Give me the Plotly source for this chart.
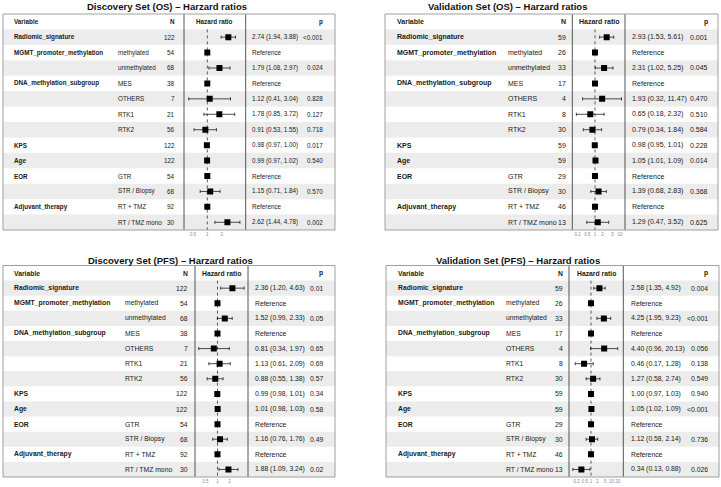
import math
import plotly.graph_objects as go

# ---------------- data ----------------
variables = ["Radiomic_signature", "MGMT_promoter_methylation", "", "DNA_methylation_subgroup",
             "", "", "", "KPS", "Age", "EOR", "", "Adjuvant_therapy", ""]
levels = ["", "methylated", "unmethylated", "MES", "OTHERS", "RTK1", "RTK2",
          "", "", "GTR", "STR / Biopsy", "RT + TMZ", "RT / TMZ mono"]

n_discovery = [122, 54, 68, 38, 7, 21, 56, 122, 122, 54, 68, 92, 30]
n_validation = [59, 26, 33, 17, 4, 8, 30, 59, 59, 29, 30, 46, 13]

REF = None  # reference level (HR fixed at 1)
reference_hr = 1.0

disc_os_hr = [2.74, REF, 1.79, REF, 1.12, 1.78, 0.91, 0.98, 0.99, REF, 1.15, REF, 2.62]
disc_os_lo = [1.94, REF, 1.08, REF, 0.41, 0.85, 0.53, 0.97, 0.97, REF, 0.71, REF, 1.44]
disc_os_hi = [3.88, REF, 2.97, REF, 3.04, 3.72, 1.55, 1.00, 1.02, REF, 1.84, REF, 4.78]
disc_os_p = ["<0.001", "", "0.024", "", "0.828", "0.127", "0.718", "0.017", "0.540", "", "0.570", "", "0.002"]

val_os_hr = [2.93, REF, 2.31, REF, 1.93, 0.65, 0.79, 0.98, 1.05, REF, 1.39, REF, 1.29]
val_os_lo = [1.53, REF, 1.02, REF, 0.32, 0.18, 0.34, 0.95, 1.01, REF, 0.68, REF, 0.47]
val_os_hi = [5.61, REF, 5.25, REF, 11.47, 2.32, 1.84, 1.01, 1.09, REF, 2.83, REF, 3.52]
val_os_p = ["0.001", "", "0.045", "", "0.470", "0.510", "0.584", "0.228", "0.014", "", "0.368", "", "0.625"]

disc_pfs_hr = [2.36, REF, 1.52, REF, 0.81, 1.13, 0.88, 0.99, 1.01, REF, 1.16, REF, 1.88]
disc_pfs_lo = [1.20, REF, 0.99, REF, 0.34, 0.61, 0.55, 0.98, 0.98, REF, 0.76, REF, 1.09]
disc_pfs_hi = [4.63, REF, 2.33, REF, 1.97, 2.09, 1.38, 1.01, 1.03, REF, 1.76, REF, 3.24]
disc_pfs_p = ["0.01", "", "0.05", "", "0.65", "0.69", "0.57", "0.34", "0.58", "", "0.49", "", "0.02"]

val_pfs_hr = [2.58, REF, 4.25, REF, 4.40, 0.46, 1.27, 1.00, 1.05, REF, 1.12, REF, 0.34]
val_pfs_lo = [1.35, REF, 1.95, REF, 0.96, 0.17, 0.58, 0.97, 1.02, REF, 0.58, REF, 0.13]
val_pfs_hi = [4.92, REF, 9.23, REF, 20.13, 1.28, 2.74, 1.03, 1.09, REF, 2.14, REF, 0.88]
val_pfs_p = ["0.004", "", "<0.001", "", "0.056", "0.138", "0.549", "0.940", "<0.001", "", "0.736", "", "0.026"]

titles = ["Discovery Set (OS) – Harzard ratios", "Validation Set (OS) – Harzard ratios",
          "Discovery Set (PFS) – Harzard ratios", "Validation Set (PFS) – Harzard ratios"]
tick_values = [[0.5, 1, 2], [0.2, 0.5, 1, 2, 5, 10], [0.5, 1, 2], [0.2, 0.5, 1, 2, 5, 10, 20]]
tick_labels = [["0.5", "1", "2"], ["0.2", "0.5", "1", "2", "5", "10"],
               ["0.5", "1", "2"], ["0.2", "0.5", "1", "2", "5", "10", "20"]]

# ---------------- layout geometry (pixels) ----------------
W, H = 721, 487
FONT = "Liberation Sans, Arial, Helvetica, sans-serif"
panels = [
    dict(title=titles[0], n=n_discovery, hr=disc_os_hr, lo=disc_os_lo, hi=disc_os_hi, p=disc_os_p,
         box=(3, 14, 335, 230), hrcol=(184, 245.7), xr=(0.327, 6.3),
         cols=dict(var=12, lvl=116, n=177, est=250, p=325), fs=6.3, tx=167, ty=6.5),
    dict(title=titles[1], n=n_validation, hr=val_os_hr, lo=val_os_lo, hi=val_os_hi, p=val_os_p,
         box=(385, 14, 718, 230), hrcol=(572.3, 625), xr=(0.124, 15.8),
         cols=dict(var=395, lvl=506, n=568, est=630, p=710), fs=7.0, tx=507, ty=6.5),
    dict(title=titles[2], n=n_discovery, hr=disc_pfs_hr, lo=disc_pfs_lo, hi=disc_pfs_hi, p=disc_pfs_p,
         box=(3, 265.5, 335, 477), hrcol=(195, 248), xr=(0.274, 5.79),
         cols=dict(var=12, lvl=123, n=190, est=253, p=325), fs=6.8, tx=170.5, ty=260),
    dict(title=titles[3], n=n_validation, hr=val_pfs_hr, lo=val_pfs_lo, hi=val_pfs_hi, p=val_pfs_p,
         box=(386, 265.5, 719, 477), hrcol=(569, 623.3), xr=(0.0845, 37.7),
         cols=dict(var=396, lvl=504, n=565, est=629, p=710), fs=6.8, tx=518, ty=260),
]


def fx(v):
    return v / W


def fy(v):
    return 1 - v / H


fig = go.Figure()
shapes = []
annotations = []
layout = {}
nrows = len(variables)
TXT = "#1a1a1a"

for i, pn in enumerate(panels, start=1):
    xk = "x" if i == 1 else f"x{i}"
    yk = "y" if i == 1 else f"y{i}"
    xl = "xaxis" if i == 1 else f"xaxis{i}"
    yl = "yaxis" if i == 1 else f"yaxis{i}"
    bx0, by0, bx1, by1 = pn["box"]
    hx0, hx1 = pn["hrcol"]
    layout[xl] = dict(type="log", domain=[fx(hx0), fx(hx1)],
                      range=[math.log10(pn["xr"][0]), math.log10(pn["xr"][1])],
                      anchor=yk, showgrid=False, zeroline=False, showline=False,
                      tickmode="array", tickvals=tick_values[i - 1], ticktext=tick_labels[i - 1],
                      ticks="", ticklen=0, tickangle=0,
                      tickfont=dict(size=4.5, color="#8a8a8a", family=FONT),
                      fixedrange=True)
    layout[yl] = dict(domain=[fy(by1), fy(by0)], range=[nrows + 0.5, -0.5], anchor=xk,
                      visible=False, fixedrange=True)

    # stripes
    for r in range(1, nrows + 1, 2):
        shapes.append(dict(type="rect", xref="paper", yref=yk, x0=fx(bx0), x1=fx(bx1),
                           y0=r - 0.5, y1=r + 0.5, fillcolor="#ececec", line=dict(width=0),
                           layer="below"))
    # dashed reference line at HR = 1
    shapes.append(dict(type="line", xref=xk, yref=yk, x0=reference_hr, x1=reference_hr,
                       y0=0.5, y1=nrows + 0.5, line=dict(color="#333333", width=0.8, dash="dot"),
                       layer="below"))
    # column separators
    for cx in (hx0, hx1):
        shapes.append(dict(type="line", xref="paper", yref="paper", x0=fx(cx), x1=fx(cx),
                           y0=fy(by0), y1=fy(by1), line=dict(color="#444444", width=0.9)))
    # outer box
    shapes.append(dict(type="rect", xref="paper", yref="paper", x0=fx(bx0), x1=fx(bx1),
                       y0=fy(by1), y1=fy(by0), line=dict(color="#a0a0a0", width=1)))

    # estimates with CIs
    rows_est = [r for r in range(nrows) if pn["hr"][r] is not None]
    rows_ref = [r for r in range(nrows) if pn["hr"][r] is None]
    fig.add_trace(go.Scatter(
        x=[pn["hr"][r] for r in rows_est], y=[r + 1 for r in rows_est], mode="markers",
        marker=dict(symbol="square", size=6, color="black"),
        error_x=dict(type="data", symmetric=False,
                     array=[pn["hi"][r] - pn["hr"][r] for r in rows_est],
                     arrayminus=[pn["hr"][r] - pn["lo"][r] for r in rows_est],
                     color="black", thickness=0.7, width=1.6),
        xaxis=xk, yaxis=yk, showlegend=False, hoverinfo="skip"))
    fig.add_trace(go.Scatter(
        x=[reference_hr for _ in rows_ref], y=[r + 1 for r in rows_ref], mode="markers",
        marker=dict(symbol="square", size=6, color="black"),
        xaxis=xk, yaxis=yk, showlegend=False, hoverinfo="skip"))

    c = pn["cols"]
    fs = pn["fs"]

    def ann(text, xpx, row, anchor, bold=False, size=fs):
        annotations.append(dict(text=f"<b>{text}</b>" if bold else text, x=fx(xpx), y=row,
                                xref="paper", yref=yk, xanchor=anchor, yanchor="middle",
                                showarrow=False, font=dict(family=FONT, size=size, color=TXT)))

    # header
    ann("Variable", c["var"], 0, "left", bold=True)
    ann("N", c["n"], 0, "right", bold=True)
    ann("Hazard ratio", (hx0 + hx1) / 2, 0, "center", bold=True)
    ann("p", c["p"], 0, "right", bold=True)
    for r in range(nrows):
        row = r + 1
        if variables[r]:
            ann(variables[r], c["var"], row, "left", bold=True)
        if levels[r]:
            ann(levels[r], c["lvl"], row, "left")
        ann(str(pn["n"][r]), c["n"], row, "right")
        if pn["hr"][r] is None:
            ann("Reference", c["est"], row, "left")
        else:
            ann(f"{pn['hr'][r]:.2f} ({pn['lo'][r]:.2f}, {pn['hi'][r]:.2f})", c["est"], row, "left")
            ann(pn["p"][r], c["p"], row, "right")

    annotations.append(dict(text=f"<b>{pn['title']}</b>", x=fx(pn["tx"]), y=fy(pn["ty"]),
                            xref="paper", yref="paper", xanchor="center", yanchor="middle",
                            showarrow=False, font=dict(family=FONT, size=9.5, color="#111111")))

fig.update_layout(width=W, height=H, margin=dict(l=0, r=0, t=0, b=0),
                  paper_bgcolor="white", plot_bgcolor="rgba(0,0,0,0)",
                  shapes=shapes, annotations=annotations, showlegend=False,
                  font=dict(family=FONT), **layout)

fig.write_html("out.html", config={"displayModeBar": False, "staticPlot": True},
               post_script="document.body.style.margin='0px';document.body.style.overflow='hidden';")
